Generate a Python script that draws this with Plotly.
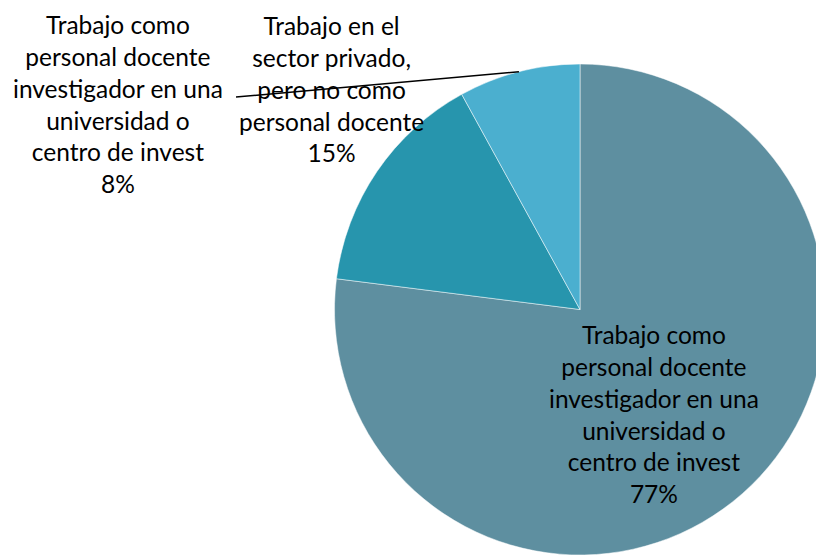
import math
import plotly.graph_objects as go

# datos
label_lines = [
    ["Trabajo como", "personal docente", "investigador en una", "universidad o", "centro de invest"],
    ["Trabajo en el", "sector privado,", "pero no como", "personal docente"],
    ["Trabajo como", "personal docente", "investigador en una", "universidad o", "centro de invest"],
]
values = [77, 15, 8]
colors = ["#5E8FA0", "#2795AD", "#4BAFCF"]

W, H = 830, 555
cx, cy, r = 580, 309.5, 245.5  # centro y radio del pie en px

fig = go.Figure()
fig.add_trace(
    go.Pie(
        values=values,
        sort=False,
        direction="clockwise",
        rotation=0,
        marker=dict(colors=colors, line=dict(color="white", width=0.5)),
        textinfo="none",
        hoverinfo="skip",
        showlegend=False,
        domain=dict(x=[(cx - r) / W, (cx + r) / W], y=[0, 2 * r / H]),
    )
)

total = sum(values)
pcts = [round(v / total * 100) for v in values]

# posiciones de las etiquetas (px)
label_pos = [(654, 414), (331, 89), (118, 104)]
for lines, p, (lx, ly) in zip(label_lines, pcts, label_pos):
    fig.add_annotation(
        x=lx / W, y=1 - ly / H, xref="paper", yref="paper",
        text="<br>".join(lines + [f"{p}%"]),
        showarrow=False, xanchor="center", yanchor="middle",
        font=dict(family="Lato", size=24.5, color="black"),
    )

# línea guía de la etiqueta del 8%
start = sum(values[:2]) / total
mid = (start + 1) / 2 * 2 * math.pi
ex = cx + r * math.sin(mid)
ey = cy - r * math.cos(mid)
fig.add_shape(
    type="line", xref="paper", yref="paper",
    x0=236 / W, y0=1 - 97 / H, x1=ex / W, y1=1 - ey / H,
    line=dict(color="black", width=1.5),
)

fig.update_layout(
    width=W, height=H,
    margin=dict(l=0, r=0, t=0, b=0),
    paper_bgcolor="white",
    plot_bgcolor="white",
)

fig.write_html(
    "out.html",
    config={"displayModeBar": False},
    post_script="document.body.style.margin='0';document.body.style.overflow='hidden';"
                "document.documentElement.style.overflow='hidden';",
)
